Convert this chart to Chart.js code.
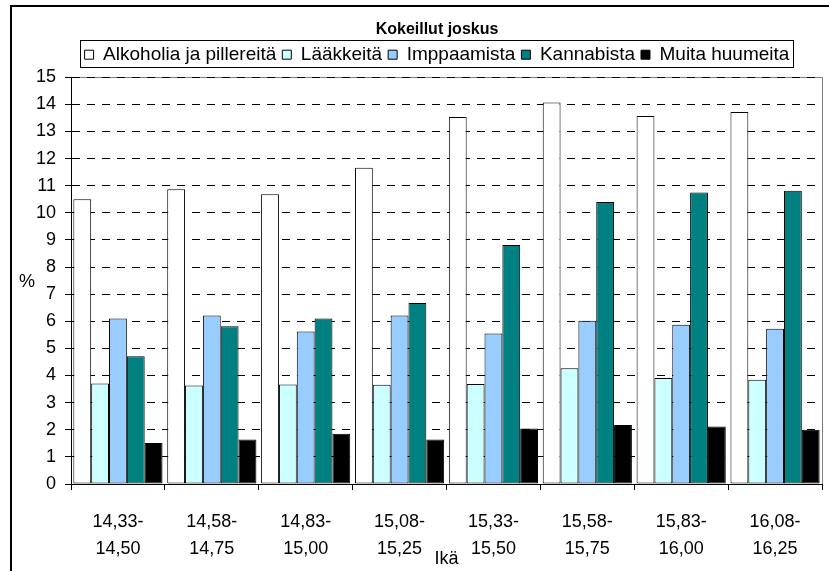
<!DOCTYPE html>
<html>
<head>
<meta charset="utf-8">
<title>Kokeillut joskus</title>
<script src="https://cdn.jsdelivr.net/npm/chart.js@4.4.1/dist/chart.umd.min.js"></script>
<style>
  html, body { margin: 0; padding: 0; background: #fff; }
  #chart { display: block; }
</style>
</head>
<body>
<canvas id="chart" width="829" height="571"></canvas>
<script>
// Age groups (two-line labels)
const ageGroups = [
    ['14,33-', '14,50'], ['14,58-', '14,75'], ['14,83-', '15,00'], ['15,08-', '15,25'],
    ['15,33-', '15,50'], ['15,58-', '15,75'], ['15,83-', '16,00'], ['16,08-', '16,25'],
];

// Values in %
const alkoholia   = [10.50, 10.87, 10.68, 11.66, 13.53, 14.07, 13.57, 13.72];
const laakkeita   = [3.71, 3.63, 3.67, 3.66, 3.69, 4.27, 3.91, 3.84];
const imppaamista = [6.10, 6.21, 5.62, 6.21, 5.55, 6.02, 5.87, 5.72];
const kannabista  = [4.71, 5.82, 6.10, 6.67, 8.81, 10.40, 10.75, 10.81];
const muita       = [1.51, 1.64, 1.85, 1.64, 2.05, 2.18, 2.12, 2.00];

const yMin = 0;
const yMax = 15;
const yStep = 1;

const FONT = 'Arial, "Liberation Sans", sans-serif';

Chart.defaults.font.family = FONT;
Chart.defaults.color = '#000';

function series(label, data, color) {
    return {
        label: label,
        data: data,
        backgroundColor: color,
        borderColor: '#000',
        borderWidth: 1,
        borderSkipped: false,
        categoryPercentage: 0.95,
        barPercentage: 1.0,
    };
}

// Outer frame, plot area border, "%" label, legend box
const framePlugin = {
    id: 'frame',
    afterLayout(chart) {
        // title and legend sit a bit right of the canvas centre
        const shift = 26;
        [chart.titleBlock, chart.legend].forEach(b => {
            if (b) { b.left += shift; b.right += shift; }
        });
    },
    beforeDraw(chart) {
        const c = chart.ctx;
        const a = chart.chartArea;
        c.save();
        c.fillStyle = '#fff';
        c.fillRect(0, 0, chart.width, chart.height);
        c.strokeStyle = '#000';
        c.lineWidth = 2;
        c.strokeRect(11, 6, chart.width + 20, chart.height + 20);
        c.strokeStyle = '#808080';
        c.lineWidth = 1;
        c.beginPath();
        c.moveTo(a.left, Math.round(a.top) + 0.5);
        c.lineTo(Math.round(a.right) + 0.5, Math.round(a.top) + 0.5);
        c.lineTo(Math.round(a.right) + 0.5, a.bottom + 5);
        c.stroke();
        c.restore();
    },
    afterDraw(chart) {
        const c = chart.ctx;
        c.save();
        c.fillStyle = '#000';
        c.font = '18px ' + FONT;
        c.textAlign = 'center';
        c.textBaseline = 'middle';
        c.fillText('%', 27, (chart.chartArea.top + chart.chartArea.bottom) / 2 + 1);

        const boxes = chart.legend.legendHitBoxes;
        if (boxes && boxes.length) {
            let x1 = Infinity, y1 = Infinity, x2 = -Infinity, y2 = -Infinity;
            boxes.forEach(b => {
                x1 = Math.min(x1, b.left);
                y1 = Math.min(y1, b.top);
                x2 = Math.max(x2, b.left + b.width);
                y2 = Math.max(y2, b.top + b.height);
            });
            c.strokeStyle = '#000';
            c.lineWidth = 1;
            c.strokeRect(Math.round(x1) - 4.5, Math.round(y1) - 4.5, Math.round(x2 - x1) + 8, Math.round(y2 - y1) + 8);
        }
        c.restore();
    },
};

// a little room under the legend
const legendGap = {
    id: 'legendGap',
    beforeInit(chart) {
        const fit = chart.legend.fit;
        chart.legend.fit = function () {
            fit.bind(chart.legend)();
            this.height += 3;
        };
    },
};

const chart = new Chart(document.getElementById('chart').getContext('2d'), {
    type: 'bar',
    data: {
        labels: ageGroups,
        datasets: [
            series('Alkoholia ja pillereitä', alkoholia, '#FFFFFF'),
            series('Lääkkeitä', laakkeita, '#CCFFFF'),
            series('Imppaamista', imppaamista, '#99CCFF'),
            series('Kannabista', kannabista, '#008080'),
            series('Muita huumeita', muita, '#000000'),
        ],
    },
    options: {
        responsive: false,
        animation: false,
        layout: {
            padding: { left: 0, right: 7, top: 20, bottom: 4 },
        },
        plugins: {
            title: {
                display: true,
                text: 'Kokeillut joskus',
                color: '#000',
                font: { size: 16, weight: 'bold' },
                padding: { top: 0, bottom: 0 },
            },
            legend: {
                display: true,
                labels: {
                    color: '#000',
                    font: { size: 19 },
                    boxWidth: 9,
                    boxHeight: 9,
                    padding: 6,
                },
            },
            tooltip: { enabled: false },
        },
        scales: {
            x: {
                grid: {
                    offset: true,
                    drawOnChartArea: false,
                    color: '#000',
                    tickLength: 6,
                },
                border: { color: '#000', width: 1 },
                ticks: {
                    color: '#000',
                    font: { size: 18, lineHeight: 1.5 },
                    padding: 18.5,
                    maxRotation: 0,
                    autoSkip: false,
                },
                title: {
                    display: true,
                    text: 'Ikä',
                    color: '#000',
                    font: { size: 18 },
                    padding: { top: -32.6, bottom: -3 },
                },
            },
            y: {
                min: yMin,
                max: yMax,
                afterFit(scale) { scale.width = 71; },
                grid: {
                    color: '#000',
                    tickLength: 6,
                    tickBorderDash: [],
                },
                border: { color: '#000', width: 1, dash: [8, 7] },
                ticks: {
                    stepSize: yStep,
                    color: '#000',
                    font: { size: 18 },
                    padding: 9,
                },
            },
        },
    },
    plugins: [framePlugin, legendGap],
});
</script>
</body>
</html>
